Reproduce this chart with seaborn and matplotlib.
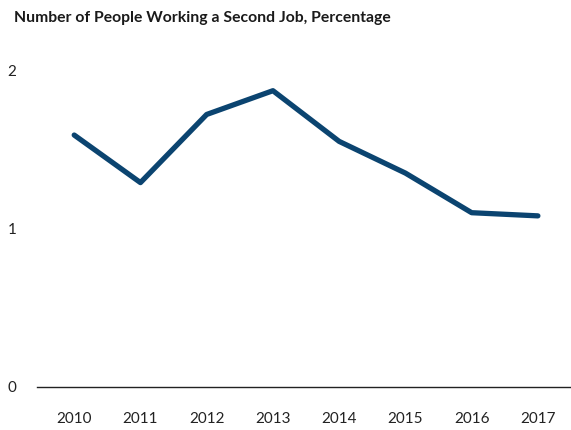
import numpy as np
import pandas as pd
import seaborn as sns
import matplotlib.pyplot as plt

# values
years = [2010, 2011, 2012, 2013, 2014, 2015, 2016, 2017]
share = [1.59, 1.29, 1.72, 1.87, 1.55, 1.35, 1.10, 1.08]
y_ticks = [0, 1, 2]

df = pd.DataFrame({"year": years, "share": share})

sns.set_style("white")
plt.rcParams['font.family'] = ['Lato', 'DejaVu Sans']

fig = plt.figure(figsize=(5.71, 4.30), dpi=100)
ax = fig.add_axes([0.065, 0.1, 0.935, 0.737])

sns.lineplot(data=df, x="year", y="share", ax=ax, color="#0b4470",
             linewidth=3.8, solid_capstyle="round", clip_on=False)

ax.set_xlim(2009.44, 2017.5)
ax.set_ylim(0, 2)
ax.set_xticks(years)
ax.set_yticks(y_ticks)
ax.set_xlabel("")
ax.set_ylabel("")
for s in ["top", "right", "left"]:
    ax.spines[s].set_visible(False)
ax.spines["bottom"].set_color("#222222")
ax.spines["bottom"].set_linewidth(1.0)
ax.tick_params(axis="both", length=0, labelsize=11, colors="#222222")
ax.tick_params(axis="y", pad=15)
ax.tick_params(axis="x", pad=18)

fig.text(0.025, 0.958, "Number of People Working a Second Job, Percentage",
         fontsize=11.3, fontweight="bold", color="#1a1a1a", va="center", ha="left")

fig.savefig("out.png", dpi=100)
